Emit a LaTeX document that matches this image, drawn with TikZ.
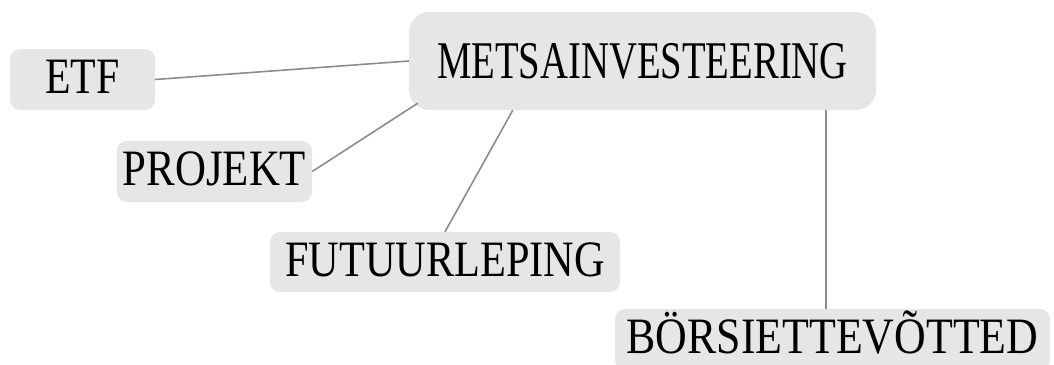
\documentclass[tikz,border=0pt]{standalone}
\usepackage{fontspec}
\setmainfont{Liberation Serif}
\usetikzlibrary{calc}
\definecolor{boxfill}{HTML}{E6E6E6}
\definecolor{edgegray}{HTML}{8C8C8C}
\tikzset{
  topic/.style={fill=boxfill, rounded corners=10pt, inner sep=0pt, text height=34pt, text depth=6pt,
    font=\fontsize{51}{51}\selectfont, anchor=center},
  central/.style={fill=boxfill, rounded corners=20pt, inner sep=0pt, text height=35pt, text depth=0pt,
    font=\fontsize{53}{53}\selectfont, anchor=center},
  link/.style={draw=edgegray, line width=1.6pt}
}
\begin{document}
\begin{tikzpicture}[x=1pt, y=-1pt]
\useasboundingbox (0,0) rectangle (1054,364);
\node[central, minimum width=467pt, minimum height=98pt] (main) at (642.5,61) {\scalebox{0.73}[1]{METSAINVESTEERING}};
\node[topic, minimum width=145pt, minimum height=61pt] (etf) at (82.5,79.5) {\scalebox{0.82}[1]{ETF}};
\node[topic, minimum width=195pt, minimum height=61pt] (proj) at (214.5,171.5) {\scalebox{0.84}[1]{PROJEKT}};
\node[topic, minimum width=350pt, minimum height=60pt] (futu) at (445,262) {\scalebox{0.83}[1]{FUTUURLEPING}};
\node[topic, minimum width=435pt, minimum height=61pt] (bors) at (832.5,339.5) {\scalebox{0.86}[1]{BÖRSIETTEVÕTTED}};
\draw[link] (etf.east) -- (main.west);
\draw[link] (proj.east) -- ($(main.south west)+(9pt,7pt)$);
\draw[link] (futu.north) -- ($(main.south west)+(104pt,0pt)$);
\coordinate (bt) at ($(main.south)+(183.5pt,0pt)$);
\draw[link] (bt) -- (bt |- bors.north);
\end{tikzpicture}
\end{document}
